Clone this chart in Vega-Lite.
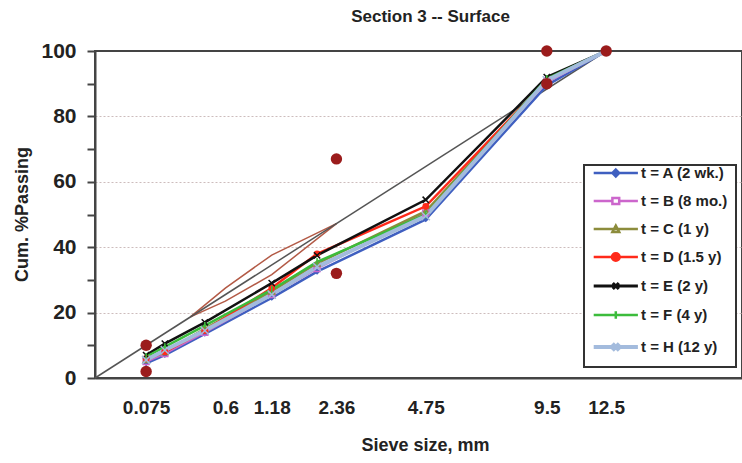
{
  "$schema": "https://vega.github.io/schema/vega-lite/v6.json",
  "width": 647,
  "height": 327,
  "autosize": "none",
  "padding": {"left": 95, "top": 51, "right": 0, "bottom": 85},
  "background": "white",
  "config": {
    "font": "Liberation Sans",
    "view": {"stroke": "#444", "strokeWidth": 2}
  },
  "title": {
    "text": "Section 3 -- Surface",
    "fontSize": 17,
    "fontWeight": "bold",
    "color": "#222",
    "anchor": "middle",
    "frame": "group",
    "offset": 14,
    "dx": 12
  },
  "datasets": {
    "gradation": [
      {"series": "t = A (2 wk.)", "size": 0.075, "pct": 4.5},
      {"series": "t = A (2 wk.)", "size": 0.15, "pct": 7},
      {"series": "t = A (2 wk.)", "size": 0.41, "pct": 13.5},
      {"series": "t = A (2 wk.)", "size": 1.18, "pct": 24.5},
      {"series": "t = A (2 wk.)", "size": 1.96, "pct": 32.5},
      {"series": "t = A (2 wk.)", "size": 4.75, "pct": 48.5},
      {"series": "t = A (2 wk.)", "size": 9.5, "pct": 89.5},
      {"series": "t = A (2 wk.)", "size": 12.5, "pct": 100},
      {"series": "t = B (8 mo.)", "size": 0.075, "pct": 5},
      {"series": "t = B (8 mo.)", "size": 0.15, "pct": 7.5},
      {"series": "t = B (8 mo.)", "size": 0.41, "pct": 14},
      {"series": "t = B (8 mo.)", "size": 1.18, "pct": 25.5},
      {"series": "t = B (8 mo.)", "size": 1.96, "pct": 33.5},
      {"series": "t = B (8 mo.)", "size": 4.75, "pct": 50.5},
      {"series": "t = B (8 mo.)", "size": 9.5, "pct": 90.5},
      {"series": "t = B (8 mo.)", "size": 12.5, "pct": 100},
      {"series": "t = C (1 y)", "size": 0.075, "pct": 5.5},
      {"series": "t = C (1 y)", "size": 0.15, "pct": 8},
      {"series": "t = C (1 y)", "size": 0.41, "pct": 15},
      {"series": "t = C (1 y)", "size": 1.18, "pct": 26.5},
      {"series": "t = C (1 y)", "size": 1.96, "pct": 35},
      {"series": "t = C (1 y)", "size": 4.75, "pct": 51},
      {"series": "t = C (1 y)", "size": 9.5, "pct": 91},
      {"series": "t = C (1 y)", "size": 12.5, "pct": 100},
      {"series": "t = D (1.5 y)", "size": 0.075, "pct": 6},
      {"series": "t = D (1.5 y)", "size": 0.15, "pct": 8},
      {"series": "t = D (1.5 y)", "size": 0.41, "pct": 14.5},
      {"series": "t = D (1.5 y)", "size": 1.18, "pct": 27.5},
      {"series": "t = D (1.5 y)", "size": 1.96, "pct": 38},
      {"series": "t = D (1.5 y)", "size": 4.75, "pct": 52.5},
      {"series": "t = D (1.5 y)", "size": 9.5, "pct": 91},
      {"series": "t = D (1.5 y)", "size": 12.5, "pct": 100},
      {"series": "t = E (2 y)", "size": 0.075, "pct": 7},
      {"series": "t = E (2 y)", "size": 0.15, "pct": 10.5},
      {"series": "t = E (2 y)", "size": 0.41, "pct": 17},
      {"series": "t = E (2 y)", "size": 1.18, "pct": 29},
      {"series": "t = E (2 y)", "size": 1.96, "pct": 37.5},
      {"series": "t = E (2 y)", "size": 4.75, "pct": 54.5},
      {"series": "t = E (2 y)", "size": 9.5, "pct": 92},
      {"series": "t = E (2 y)", "size": 12.5, "pct": 100},
      {"series": "t = F (4 y)", "size": 0.075, "pct": 6.5},
      {"series": "t = F (4 y)", "size": 0.15, "pct": 9.5},
      {"series": "t = F (4 y)", "size": 0.41, "pct": 16},
      {"series": "t = F (4 y)", "size": 1.18, "pct": 27},
      {"series": "t = F (4 y)", "size": 1.96, "pct": 35.5},
      {"series": "t = F (4 y)", "size": 4.75, "pct": 50},
      {"series": "t = F (4 y)", "size": 9.5, "pct": 91.5},
      {"series": "t = F (4 y)", "size": 12.5, "pct": 100},
      {"series": "t = H (12 y)", "size": 0.075, "pct": 5.5},
      {"series": "t = H (12 y)", "size": 0.15, "pct": 8.5},
      {"series": "t = H (12 y)", "size": 0.41, "pct": 14.5},
      {"series": "t = H (12 y)", "size": 1.18, "pct": 25.5},
      {"series": "t = H (12 y)", "size": 1.96, "pct": 34},
      {"series": "t = H (12 y)", "size": 4.75, "pct": 49.5},
      {"series": "t = H (12 y)", "size": 9.5, "pct": 91},
      {"series": "t = H (12 y)", "size": 12.5, "pct": 100}
    ],
    "controlPoints": [
      {"size": 0.075, "pct": 2},
      {"size": 0.075, "pct": 10},
      {"size": 2.36, "pct": 32},
      {"size": 2.36, "pct": 67},
      {"size": 9.5, "pct": 90},
      {"size": 9.5, "pct": 100},
      {"size": 12.5, "pct": 100}
    ],
    "restrictedZone": [
      {"edge": "upper", "size": 0.3, "pct": 18.7},
      {"edge": "upper", "size": 0.6, "pct": 27.5},
      {"edge": "upper", "size": 1.18, "pct": 37.6},
      {"edge": "upper", "size": 2.36, "pct": 47.2},
      {"edge": "lower", "size": 0.3, "pct": 18.7},
      {"edge": "lower", "size": 0.6, "pct": 23.5},
      {"edge": "lower", "size": 1.18, "pct": 31.6},
      {"edge": "lower", "size": 2.36, "pct": 47.2}
    ],
    "maxDensity": [
      {"size": 0, "pct": 0},
      {"size": 12.5, "pct": 100}
    ]
  },
  "encoding": {
    "x": {
      "field": "size",
      "type": "quantitative",
      "scale": {"type": "pow", "exponent": 0.45, "domain": [0, 21.1], "nice": false},
      "axis": {
        "values": [0.075, 0.6, 1.18, 2.36, 4.75, 9.5, 12.5],
        "labelExpr": "'' + datum.value",
        "ticks": false,
        "grid": false,
        "labelOverlap": false,
        "labelFlush": false,
        "labelFontSize": 19,
        "labelFontWeight": "bold",
        "labelColor": "#222",
        "labelPadding": 20,
        "domainColor": "#444",
        "domainWidth": 2,
        "title": "Sieve size, mm",
        "titleFontSize": 18,
        "titleFontWeight": "bold",
        "titleColor": "#222",
        "titleX": 330,
        "titleY": 67,
        "titleBaseline": "middle"
      }
    },
    "y": {
      "field": "pct",
      "type": "quantitative",
      "scale": {"domain": [0, 100], "nice": false},
      "axis": {
        "values": [0, 10, 20, 30, 40, 50, 60, 70, 80, 90, 100],
        "labelExpr": "datum.value % 20 === 0 ? datum.label : ''",
        "tickSize": 8,
        "tickWidth": 2,
        "tickColor": "#444",
        "domainColor": "#444",
        "domainWidth": 2,
        "labelFontSize": 21,
        "labelFontWeight": "bold",
        "labelColor": "#222",
        "labelPadding": 11,
        "gridColor": {
          "condition": {"test": "datum.value % 20 === 0 && datum.value > 0 && datum.value < 100", "value": "#cdbcbc"},
          "value": "transparent"
        },
        "gridDash": [2, 2],
        "gridWidth": 1,
        "title": "Cum. %Passing",
        "titleFontSize": 18,
        "titleFontWeight": "bold",
        "titleColor": "#222",
        "titleX": -73,
        "titleY": 163,
        "titleAngle": -90,
        "titleAlign": "center",
        "titleBaseline": "middle"
      }
    }
  },
  "layer": [
    {
      "data": {"name": "restrictedZone"},
      "mark": {"type": "line", "color": "#b35a46", "strokeWidth": 1.5},
      "encoding": {"detail": {"field": "edge"}, "order": {"field": "size"}}
    },
    {
      "data": {"name": "maxDensity"},
      "mark": {"type": "line", "color": "#555555", "strokeWidth": 1.5},
      "encoding": {}
    },
    {
      "data": {"name": "gradation"},
      "transform": [{"filter": "datum.series !== 't = H (12 y)'"}],
      "mark": {"type": "line", "strokeWidth": 2.5},
      "encoding": {
        "order": {"field": "size"},
        "color": {
          "field": "series",
          "type": "nominal",
          "scale": {
            "domain": ["t = A (2 wk.)", "t = B (8 mo.)", "t = C (1 y)", "t = D (1.5 y)", "t = E (2 y)", "t = F (4 y)", "t = H (12 y)"],
            "range": ["#3f5fc0", "#cc66cc", "#8c8c3c", "#ff2a1a", "#111111", "#3cbc3c", "#a3bbdd"]
          },
          "legend": {
            "title": null,
            "orient": "none",
            "legendX": 489,
            "legendY": 114,
            "strokeColor": "#333",
            "fillColor": "white",
            "padding": 8,
            "symbolType": "stroke",
            "symbolSize": 289,
            "symbolStrokeWidth": 2.5,
            "labelFontSize": 15,
            "labelFontWeight": "bold",
            "labelColor": "#222",
            "rowPadding": 11,
            "encode": {
              "legend": {"update": {"strokeWidth": {"value": 2}}},
              "labels": {"update": {"dx": {"value": 49}}},
              "symbols": {
                "update": {
                  "shape": {"signal": "['M0.2,0H5.4M2.8,-0.4L3.2,0L2.8,0.4L2.4,0Z','M0.2,0H2.4M3.2,0H5.4M2.4,-0.35H3.2V0.35H2.4Z','M0.2,0H5.4M2.8,-0.4L3.2,0.35H2.4Z','M0.2,0H5.4M3.25,0A0.45,0.45,0,1,1,2.35,0A0.45,0.45,0,1,1,3.25,0Z','M0.2,0H5.4M2.45,-0.35L3.15,0.35M2.45,0.35L3.15,-0.35','M0.2,0H5.4M2.8,-0.45V0.45','M0.2,0H5.4M2.4,-0.4L3.2,0.4M2.4,0.4L3.2,-0.4'][indexof(['t = A (2 wk.)','t = B (8 mo.)','t = C (1 y)','t = D (1.5 y)','t = E (2 y)','t = F (4 y)','t = H (12 y)'], datum.value)]"},
                  "fill": {"signal": "['#3f5fc0','#ffffff','#ffffff','#ff2a1a','#111111','#3cbc3c','#a3bbdd'][indexof(['t = A (2 wk.)','t = B (8 mo.)','t = C (1 y)','t = D (1.5 y)','t = E (2 y)','t = F (4 y)','t = H (12 y)'], datum.value)]"},
                  "strokeWidth": {"signal": "[2.5,2.5,2.5,2.5,3,2.5,4][indexof(['t = A (2 wk.)','t = B (8 mo.)','t = C (1 y)','t = D (1.5 y)','t = E (2 y)','t = F (4 y)','t = H (12 y)'], datum.value)]"}
                }
              }
            }
          }
        }
      }
    },
    {
      "data": {"name": "gradation"},
      "transform": [{"filter": "datum.series === 't = H (12 y)'"}],
      "mark": {"type": "line", "strokeWidth": 4},
      "encoding": {
        "order": {"field": "size"},
        "color": {"field": "series", "type": "nominal"}
      }
    },
    {
      "data": {"name": "gradation"},
      "transform": [{"filter": "datum.series === 't = A (2 wk.)'"}],
      "mark": {"type": "point", "shape": "diamond", "filled": true, "color": "#3f5fc0", "size": 35, "opacity": 1},
      "encoding": {}
    },
    {
      "data": {"name": "gradation"},
      "transform": [{"filter": "datum.series === 't = B (8 mo.)'"}],
      "mark": {"type": "point", "shape": "square", "filled": false, "color": "#cc66cc", "size": 35, "strokeWidth": 1.5, "opacity": 1},
      "encoding": {}
    },
    {
      "data": {"name": "gradation"},
      "transform": [{"filter": "datum.series === 't = C (1 y)'"}],
      "mark": {"type": "point", "shape": "triangle-up", "filled": false, "color": "#8c8c3c", "size": 35, "strokeWidth": 1.5, "opacity": 1},
      "encoding": {}
    },
    {
      "data": {"name": "gradation"},
      "transform": [{"filter": "datum.series === 't = D (1.5 y)'"}],
      "mark": {"type": "point", "shape": "circle", "filled": true, "color": "#ff2a1a", "size": 45, "opacity": 1},
      "encoding": {}
    },
    {
      "data": {"name": "gradation"},
      "transform": [{"filter": "datum.series === 't = E (2 y)'"}],
      "mark": {"type": "point", "shape": "M-1,-1L1,1M-1,1L1,-1", "filled": false, "color": "#111111", "size": 40, "strokeWidth": 1.5, "opacity": 1},
      "encoding": {}
    },
    {
      "data": {"name": "gradation"},
      "transform": [{"filter": "datum.series === 't = F (4 y)'"}],
      "mark": {"type": "point", "shape": "M0,-1.2V1.2", "filled": false, "color": "#3cbc3c", "size": 40, "strokeWidth": 1.5, "opacity": 1},
      "encoding": {}
    },
    {
      "data": {"name": "gradation"},
      "transform": [{"filter": "datum.series === 't = H (12 y)'"}],
      "mark": {"type": "point", "shape": "M-1.3,-1.3L1.3,1.3M-1.3,1.3L1.3,-1.3", "filled": false, "color": "#a3bbdd", "size": 40, "strokeWidth": 1.5, "opacity": 1},
      "encoding": {}
    },
    {
      "data": {"name": "controlPoints"},
      "mark": {"type": "circle", "size": 130, "color": "#9b1c1c", "opacity": 1},
      "encoding": {}
    }
  ]
}
